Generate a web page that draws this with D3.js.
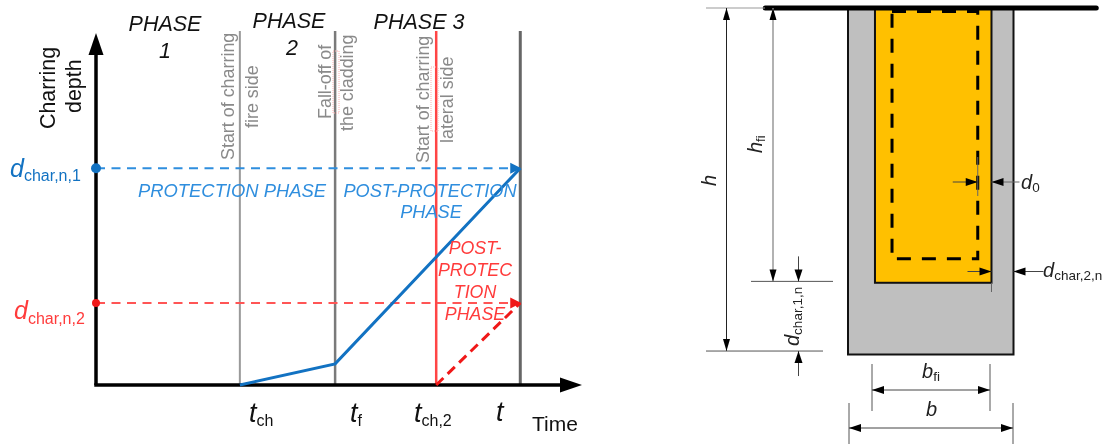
<!DOCTYPE html>
<html>
<head>
<meta charset="utf-8">
<script src="https://cdn.jsdelivr.net/npm/d3@7/dist/d3.min.js"></script>
<style>
html, body { margin: 0; padding: 0; background: #fff; }
svg { display: block; font-family: "Liberation Sans", Arial, sans-serif; filter: blur(0.4px); }
</style>
</head>
<body>
<svg width="1102" height="444"></svg>
<script>
// left chart, time and depth in axis units (0-10)
const timeMarks = [2.96, 4.92, 7.0, 8.73]
const timeColors = ["#9a9a9a", "#7a7a7a", "#ff4545", "#666666"]
const timeWidths = [2, 2.5, 2.5, 3]
const blueTime = [2.96, 4.92, 8.73]
const blueDepth = [0, 0.6, 6.16]
const redTime = [7.0, 8.73]
const redDepth = [0, 2.33]
const depthLevels = [6.16, 2.33]
const phaseLabels = [["PHASE", "1"], ["PHASE", "2"], ["PHASE 3"]]
const eventLabels = [
  ["Start of charring", "fire side"],
  ["Fall-off of", "the cladding"],
  ["Start of charring", "lateral side"]
]

// right section, widths as % of b and heights as % of the drawn height
const sectionX = [0, 16.3, 26.6, 78.4, 86.7, 100]
const sectionY = [0, 72.4, 78.9, 79.3, 99, 100]

const blue = "#1272c2", blueLight = "#2f8ede", red = "#ff3b3b", grey = "#8a8a8a"

const svg = d3.select("svg")
const x = d3.scaleLinear().domain([0, 10]).range([96, 582])
const y = d3.scaleLinear().domain([0, 10]).range([385, 33])
const sx = d3.scaleLinear().domain([0, 100]).range([848, 1013.5])
const sy = d3.scaleLinear().domain([0, 100]).range([8, 354.5])

const line = d3.line().x(d => x(d[0])).y(d => y(d[1]))

function seg(x1, y1, x2, y2, stroke, width, dash) {
  return svg.append("line")
    .attr("x1", x1).attr("y1", y1).attr("x2", x2).attr("y2", y2)
    .attr("stroke", stroke).attr("stroke-width", width)
    .attr("stroke-dasharray", dash || null)
}

// dir: angle the head points to, in degrees
function head(tx, ty, dir, len, half, fill) {
  svg.append("path")
    .attr("d", `M0,0L${-len},${-half}L${-len},${half}Z`)
    .attr("transform", `translate(${tx},${ty}) rotate(${dir})`)
    .attr("fill", fill)
}

function text(px, py, str, size, fill, opts = {}) {
  const t = svg.append("text")
    .attr("font-size", size)
    .attr("fill", fill)
    .attr("font-style", opts.italic ? "italic" : null)
    .attr("text-anchor", opts.anchor || "start")
    .attr("transform", `translate(${px},${py})` + (opts.rotate ? ` rotate(${opts.rotate})` : ""))
    .text(str)
  return t
}

// italic symbol with a subscript
function symbol(px, py, sym, sub, size, subSize, drop, fill, rotate) {
  const t = svg.append("text")
    .attr("fill", fill)
    .attr("transform", `translate(${px},${py})` + (rotate ? ` rotate(${rotate})` : ""))
  t.append("tspan").attr("font-style", "italic").attr("font-size", size).text(sym)
  t.append("tspan").attr("font-size", subSize).attr("dy", drop).text(sub)
}

// ---------- left chart ----------

// vertical phase lines
timeMarks.forEach((t, i) => {
  seg(x(t), y(10.06), x(t), y(0), timeColors[i], timeWidths[i])
})

// level lines
seg(x(0), y(depthLevels[0]), x(8.6), y(depthLevels[0]), blueLight, 2, "9 6.5")
seg(x(0), y(depthLevels[1]), x(8.6), y(depthLevels[1]), "#ff5555", 2, "9 6.5")

// spell-check marks left in the source figure
;[[333, 51, 6, 62], [431, 67, 7, 64]].forEach(r => {
  svg.append("rect")
    .attr("x", r[0]).attr("y", r[1]).attr("width", r[2]).attr("height", r[3])
    .attr("fill", "none").attr("stroke", "#ffb0b0").attr("stroke-width", 1)
    .attr("stroke-dasharray", "1 1")
})

// axes
seg(x(0), y(0), x(0), y(9.4), "#000", 3.5)
seg(x(0) - 1.75, y(0), x(9.6), y(0), "#000", 3.5)
head(x(0), y(10), -90, 22, 7.5, "#000")
head(x(10), y(0), 0, 22, 7.5, "#000")

// charring curves
svg.append("path")
  .attr("d", line(d3.zip(blueTime, blueDepth)))
  .attr("fill", "none").attr("stroke", blue).attr("stroke-width", 3)
svg.append("path")
  .attr("d", line(d3.zip(redTime, redDepth)))
  .attr("fill", "none").attr("stroke", "#f01818").attr("stroke-width", 3)
  .attr("stroke-dasharray", "10 6")

head(x(8.73) + 1, y(depthLevels[0]), 0, 11, 5.5, blue)
head(x(8.73) + 1, y(depthLevels[1]), 0, 11, 5.5, "#f01818")
svg.append("circle").attr("cx", x(0)).attr("cy", y(depthLevels[0])).attr("r", 5).attr("fill", blue)
svg.append("circle").attr("cx", x(0)).attr("cy", y(depthLevels[1])).attr("r", 4).attr("fill", "#f01818")

// phase titles
const phaseX = [165, 289, 419]
const phaseY = [31, 28, 29]
phaseLabels.forEach((lines, i) => {
  text(phaseX[i], phaseY[i], lines[0], 21.5, "#111", { italic: true, anchor: "middle" })
  if (lines[1]) text(phaseX[i] + (i ? 3 : 0), phaseY[i] + 27, lines[1], 21.5, "#111", { italic: true, anchor: "middle" })
})

// event labels next to the vertical lines
const eventPos = [
  [[234, 160], [258, 128]],
  [[331, 119], [352.5, 131]],
  [[429, 163], [453, 143]]
]
eventLabels.forEach((pair, i) => {
  pair.forEach((s, j) => {
    text(eventPos[i][j][0], eventPos[i][j][1], s, 17.9, grey, { rotate: -90 })
  })
})

// y axis title
text(55, 129, "Charring", 21.4, "#111", { rotate: -90 })
text(81, 113, "depth", 21.4, "#111", { rotate: -90 })
symbol(10, 177, "d", "char,n,1", 25, 16, 4, blue)
symbol(14, 319, "d", "char,n,2", 25, 16, 5, red)

// phase captions
text(138, 197, "PROTECTION PHASE", 18.4, blueLight, { italic: true })
text(430, 197, "POST-PROTECTION", 18.2, blueLight, { italic: true, anchor: "middle" })
text(431, 218, "PHASE", 18.2, blueLight, { italic: true, anchor: "middle" })
;["POST-", "PROTEC", "TION", "PHASE"].forEach((s, i) => {
  text(475, 254 + i * 22.1, s, 17.8, red, { italic: true, anchor: "middle" })
})

// time labels
symbol(249, 422, "t", "ch", 27, 16, 4, "#111")
symbol(350, 422, "t", "f", 27, 16, 4, "#111")
symbol(414, 422, "t", "ch,2", 27, 16, 4, "#111")
symbol(496, 421, "t", "", 27, 16, 0, "#111")
text(532, 431, "Time", 21, "#111")

// ---------- right section ----------
svg.append("rect")
  .attr("x", sx(0)).attr("y", sy(0))
  .attr("width", sx(100) - sx(0)).attr("height", sy(100) - sy(0))
  .attr("fill", "#bfbfbf").attr("stroke", "#111").attr("stroke-width", 2)
svg.append("rect")
  .attr("x", sx(sectionX[1])).attr("y", sy(0))
  .attr("width", sx(sectionX[4]) - sx(sectionX[1])).attr("height", sy(sectionY[3]) - sy(0))
  .attr("fill", "#ffc000").attr("stroke", "#111").attr("stroke-width", 2)
svg.append("rect")
  .attr("x", sx(sectionX[2])).attr("y", sy(1))
  .attr("width", sx(sectionX[3]) - sx(sectionX[2])).attr("height", sy(sectionY[1]) - sy(1))
  .attr("fill", "none").attr("stroke", "#000").attr("stroke-width", 3)
  .attr("stroke-dasharray", "14 11")
svg.append("line")
  .attr("x1", sx(-50)).attr("x2", sx(150)).attr("y1", sy(0)).attr("y2", sy(0))
  .attr("stroke", "#000").attr("stroke-width", 5).attr("stroke-linecap", "round")

const dimX = { h: 726.5, hfi: 773, dchar: 798.5 }
const arrowLen = 12, arrowHalf = 3.5

// heights
seg(706, sy(0), 765, sy(0), "#999", 1)
seg(dimX.h, sy(0), dimX.h, sy(sectionY[4]), "#222", 1)
head(dimX.h, sy(0), -90, arrowLen, arrowHalf, "#000")
head(dimX.h, sy(sectionY[4]), 90, arrowLen, arrowHalf, "#000")
seg(706, sy(sectionY[4]), 823, sy(sectionY[4]), "#555", 1)

seg(dimX.hfi, sy(0), dimX.hfi, sy(sectionY[2]), "#999", 1.5)
head(dimX.hfi, sy(0), -90, arrowLen, arrowHalf, "#000")
head(dimX.hfi, sy(sectionY[2]), 90, arrowLen, arrowHalf, "#000")
seg(751, sy(sectionY[2]), 833, sy(sectionY[2]), "#555", 1)

// d_char,1,n
seg(dimX.dchar, sy(sectionY[2]) - 25, dimX.dchar, sy(sectionY[2]), "#444", 1)
head(dimX.dchar, sy(sectionY[2]), 90, arrowLen, arrowHalf + 0.5, "#000")
seg(dimX.dchar, sy(sectionY[4]) + 25, dimX.dchar, sy(sectionY[4]), "#444", 1)
head(dimX.dchar, sy(sectionY[4]), -90, arrowLen, arrowHalf + 0.5, "#000")

// d0
const d0Y = 182
seg(sx(sectionX[3]), 157, sx(sectionX[3]), 196, "#666", 1)
seg(sx(sectionX[3]) - 25, d0Y, sx(sectionX[3]), d0Y, "#444", 1)
head(sx(sectionX[3]), d0Y, 0, arrowLen, arrowHalf + 0.5, "#000")
seg(sx(sectionX[4]) + 28, d0Y, sx(sectionX[4]), d0Y, "#666", 1)
head(sx(sectionX[4]), d0Y, 180, arrowLen, arrowHalf + 0.5, "#000")

// d_char,2,n
const d2Y = 271.5
seg(sx(sectionX[4]), sy(sectionY[3]), sx(sectionX[4]), 292, "#666", 1)
seg(sx(sectionX[4]) - 24, d2Y, sx(sectionX[4]), d2Y, "#444", 1)
head(sx(sectionX[4]), d2Y, 0, arrowLen, arrowHalf + 0.5, "#000")
seg(sx(100) + 30, d2Y, sx(100), d2Y, "#444", 1)
head(sx(100), d2Y, 180, arrowLen, arrowHalf + 0.5, "#000")

// widths
const bfiY = 390, bY = 428
seg(872, 364, 872, 411, "#555", 1)
seg(990, 364, 990, 411, "#555", 1)
seg(872, bfiY, 990, bfiY, "#444", 1)
head(872, bfiY, 180, arrowLen, arrowHalf + 0.5, "#000")
head(990, bfiY, 0, arrowLen, arrowHalf + 0.5, "#000")
seg(sx(0) + 1, 403, sx(0) + 1, 444, "#555", 1)
seg(sx(100) - 0.5, 403, sx(100) - 0.5, 444, "#555", 1)
seg(sx(0) + 1, bY, sx(100) - 0.5, bY, "#444", 1)
head(sx(0) + 1, bY, 180, arrowLen, arrowHalf + 0.5, "#000")
head(sx(100) - 0.5, bY, 0, arrowLen, arrowHalf + 0.5, "#000")

// dimension names
symbol(716, 186, "h", "", 20, 13, 0, "#222", -90)
symbol(762, 153, "h", "fi", 20, 13, 3, "#222", -90)
symbol(1021, 189, "d", "0", 20, 13.5, 3, "#222")
symbol(1043, 277, "d", "char,2,n", 20, 13.5, 3, "#222")
symbol(799, 346, "d", "char,1,n", 20, 13.5, 3, "#222", -90)
symbol(922, 378, "b", "fi", 20, 13.5, 3, "#222")
symbol(926, 416, "b", "", 20, 13.5, 0, "#222")
</script>
</body>
</html>
